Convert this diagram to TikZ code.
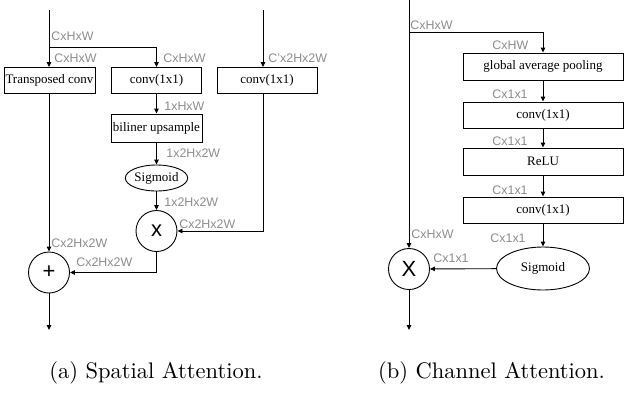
\documentclass[tikz,border=0pt]{standalone}
\usepackage{fontspec}
\newfontfamily\boxfont{Liberation Serif}
\newfontfamily\lblfont{Liberation Sans}
\usepackage{graphicx}
\usepackage{tikz}
\usetikzlibrary{arrows.meta,positioning,shapes.geometric}
\newcommand{\captxt}[1]{\scalebox{2.25}{\fontsize{10}{12}\selectfont #1}}

\begin{document}
\begin{tikzpicture}[
      x=1pt, y=-1pt,
      line width=0.9pt,
      box/.style = {draw, rectangle, inner sep=0pt, minimum height=26pt,
                    font=\boxfont\fontsize{13}{15}\selectfont},
      oval/.style = {draw, ellipse, inner sep=0pt,
                     font=\boxfont\fontsize{13}{15}\selectfont},
      op/.style = {draw, circle, minimum size=41pt, inner sep=0pt,
                   font=\lblfont\fontsize{22}{24}\selectfont},
      lbl/.style = {anchor=west, inner sep=0pt, text=black!45,
                    font=\lblfont\fontsize{12.4}{14}\selectfont},
      captext/.style = {anchor=base, inner sep=0pt},
      arrow/.style = {-{Triangle[length=5pt,width=4.5pt]}}
    ]
    \useasboundingbox (0,0) rectangle (624,392);

    % spatial attention
    \coordinate (sin) at (49,10);
    \coordinate (sbr) at (49,47);
    \coordinate (rin) at (263,10);
    \node[box, minimum width=91pt] (tconv) at (49.5,80.5) {Transposed conv};
    \node[box, minimum width=90pt] (sconv) at (156.5,80.5) {conv(1x1)};
    \node[box, minimum width=100pt] (rconv) at (267,80.5) {conv(1x1)};
    \node[box, minimum width=91pt, minimum height=28pt] (bilin) at (156.5,128) {biliner upsample};
    \node[oval, minimum width=62pt, minimum height=26pt] (ssig) at (156.5,178) {Sigmoid};
    \node[op] (mul) at (156.5,231) {x};
    \node[op] (add) at (49,272.5) {+};
    \coordinate (sout) at (49,330);

    \draw[arrow] (sin) -- (sbr) -| (sconv.north);
    \draw[arrow] (sbr) -- (tconv.north -| sbr);
    \draw[arrow] (rin) -- (rin |- rconv.north);
    \draw[arrow] (sconv) -- (bilin);
    \draw[arrow] (bilin) -- (ssig);
    \draw[arrow] (ssig) -- (mul);
    \draw[arrow] (rconv.south -| rin) |- (mul.east);
    \draw[arrow] (tconv.south -| add) -- (add.north);
    \draw[arrow] (mul.south) |- (add.east);
    \draw[arrow] (add.south) -- (sout);

    \node[lbl] at (51,36) {CxHxW};
    \node[lbl] at (54,58) {CxHxW};
    \node[lbl] at (163,58) {CxHxW};
    \node[lbl] at (268,58) {C’x2Hx2W};
    \node[lbl] at (164,106) {1xHxW};
    \node[lbl] at (166,153) {1x2Hx2W};
    \node[lbl] at (164,202) {1x2Hx2W};
    \node[lbl] at (179,224) {Cx2Hx2W};
    \node[lbl] at (51,243) {Cx2Hx2W};
    \node[lbl] at (76,262) {Cx2Hx2W};

    % channel attention
    \coordinate (cin) at (409,0);
    \coordinate (cbr) at (409,32);
    \node[box, minimum width=160pt, minimum height=27pt] (gap) at (543,66.5) {global average pooling};
    \node[box, minimum width=160pt] (cconva) at (543,115) {conv(1x1)};
    \node[box, minimum width=160pt, minimum height=27pt] (relu) at (543,161.5) {ReLU};
    \node[box, minimum width=160pt] (cconvb) at (543,210) {conv(1x1)};
    \node[oval, minimum width=93pt, minimum height=43pt] (csig) at (543,268.5) {Sigmoid};
    \node[op] (cmul) at (409,269) {X};
    \coordinate (cout) at (409,330);

    \draw[arrow] (cin) -- (cmul.north);
    \draw[arrow] (cbr) -| (gap.north);
    \draw[arrow] (gap) -- (cconva);
    \draw[arrow] (cconva) -- (relu);
    \draw[arrow] (relu) -- (cconvb);
    \draw[arrow] (cconvb) -- (csig);
    \draw[arrow] (csig) -- (cmul);
    \draw[arrow] (cmul.south) -- (cout);

    \node[lbl] at (410,25) {CxHxW};
    \node[lbl] at (492,45) {CxHW};
    \node[lbl] at (492,94) {Cx1x1};
    \node[lbl] at (492,141) {Cx1x1};
    \node[lbl] at (492,190) {Cx1x1};
    \node[lbl] at (490,238) {Cx1x1};
    \node[lbl] at (411,234) {CxHxW};
    \node[lbl] at (433,258) {Cx1x1};

    % captions
    \node[captext] (capa) at (156,378) {\captxt{(a) Spatial Attention.}};
    \node[captext] (capb) at (491.5,378) {\captxt{(b) Channel Attention.}};
\end{tikzpicture}
\end{document}
